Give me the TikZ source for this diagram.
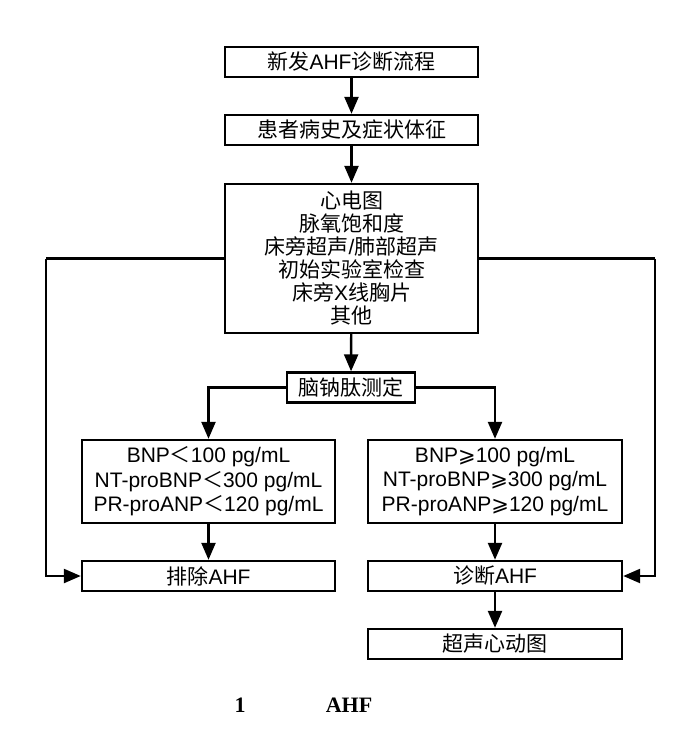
\documentclass[tikz,border=0pt]{standalone}
\usepackage{fontspec}
\setmainfont{Liberation Sans}
\newfontfamily\cjk{Noto Sans CJK SC}
\newfontfamily\djv{DejaVu Sans}
\newfontfamily\capfont{Liberation Serif}
\usetikzlibrary{arrows.meta}
\begin{document}
\begin{tikzpicture}[x=1pt,y=-1pt,
  box/.style={draw, line width=2.4pt, rectangle, inner sep=0pt, align=center,
    minimum width=253pt, minimum height=30pt, font=\fontsize{21}{23}\selectfont},
  arr/.style={line width=2.4pt, -{Triangle[length=17pt,width=14pt]}},
  ln/.style={line width=2.4pt},
  captxt/.style={font=\capfont\bfseries\fontsize{22}{24}\selectfont, anchor=base}]
\useasboundingbox (0,0) rectangle (693,744);
\node[box] (b1) at (351.5,62) {{\cjk 新发}AHF{\cjk 诊断流程}};
\node[box] (b2) at (351.5,130) {\cjk 患者病史及症状体征};
\node[box, minimum height=149pt] (b3) at (351.5,258.5) {\cjk 心电图\\\cjk 脉氧饱和度\\{\cjk 床旁超声}/{\cjk 肺部超声}\\\cjk 初始实验室检查\\{\cjk 床旁}X{\cjk 线胸片}\\\cjk 其他};
\node[box, minimum width=128pt] (b4) at (351,387.5) {\cjk 脑钠肽测定};
\node[box, minimum height=83pt, font=\fontsize{21}{24.5}\selectfont] (b5) at (208.5,481.5) {BNP{\cjk ＜}100 pg/mL\\NT-proBNP{\cjk ＜}300 pg/mL\\PR-proANP{\cjk ＜}120 pg/mL};
\node[box, minimum width=254pt, minimum height=83pt, font=\fontsize{21}{24.5}\selectfont] (b6) at (495,481.5) {BNP{\djv ⩾}100 pg/mL\\NT-proBNP{\djv ⩾}300 pg/mL\\PR-proANP{\djv ⩾}120 pg/mL};
\node[box] (b7) at (208.5,576) {{\cjk 排除}AHF};
\node[box, minimum width=254pt] (b8) at (495,576) {{\cjk 诊断}AHF};
\node[box, minimum width=254pt] (b9) at (495,644) {\cjk 超声心动图};
\coordinate (lc) at (46,258.5);
\coordinate (rc) at (655,258.5);
\draw[arr] (b1) -- (b2);
\draw[arr] (b2) -- (b3);
\draw[arr] (b3) -- (b4);
\draw[arr] (b4.west) -| (b5.north);
\draw[arr] (b4.east) -| (b6.north);
\draw[arr] (b5) -- (b7);
\draw[arr] (b6) -- (b8);
\draw[arr] (b8) -- (b9);
\draw[ln] (b3.west) -- (lc);
\draw[arr] (lc) |- (b7.west);
\draw[ln] (b3.east) -- (rc);
\draw[arr] (rc) |- (b8.east);
\node[captxt] (c1) at (240,712) {1};
\node[captxt] (c2) at (349,712) {AHF};
\end{tikzpicture}
\end{document}
